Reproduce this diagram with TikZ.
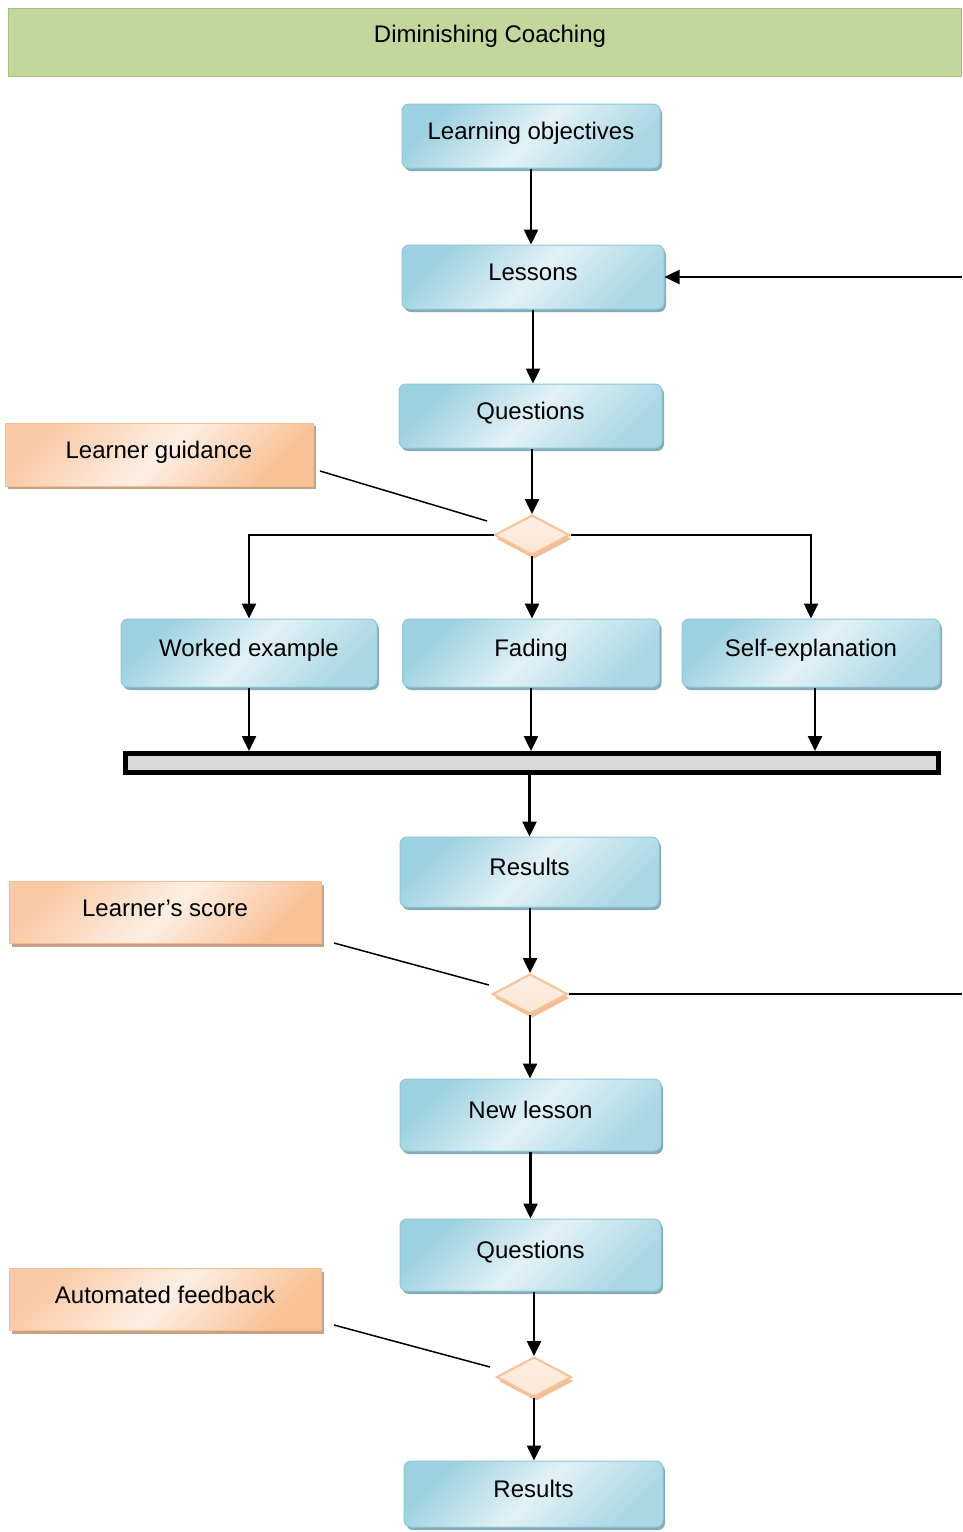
\documentclass[tikz,border=0pt]{standalone}
\usepackage{fontspec}
\setmainfont{Liberation Sans}
\usetikzlibrary{arrows.meta,positioning,shapes.geometric,shadows}
\definecolor{dcInk}{HTML}{000000}
\definecolor{dcTitleFill}{HTML}{C3D69B}
\definecolor{dcTitleLine}{HTML}{A6C27A}
\definecolor{dcBlueDark}{HTML}{9CD1E0}
\definecolor{dcBlueLight}{HTML}{E2F1F6}
\definecolor{dcBlueLine}{HTML}{8FC8D8}
\definecolor{dcBlueShadow}{HTML}{86ABB8}
\definecolor{dcOrangeDark}{HTML}{F9C196}
\definecolor{dcOrangeLight}{HTML}{FDEFE4}
\definecolor{dcOrangeLine}{HTML}{F8BC8C}
\definecolor{dcOrangeShadow}{HTML}{C9A283}
\definecolor{dcGateShadow}{HTML}{F3BE94}
\definecolor{dcBarFill}{HTML}{D9D9D9}
\tikzset{
  dc/base/.style={font=\fontsize{24pt}{28pt}\selectfont, align=center,
    inner sep=0pt, text height=18pt, text depth=10.8pt},
  dc/title/.style={dc/base, draw=dcTitleLine, fill=dcTitleFill,
    line width=1pt, text depth=18pt},
  dc/stage/.style={dc/base, draw=dcBlueLine, line width=1pt,
    rounded corners=7pt, minimum width=260pt, minimum height=66pt,
    left color=dcBlueDark, right color=dcBlueDark!80!dcBlueLight,
    middle color=dcBlueLight, shading angle=45,
    drop shadow={shadow xshift=2pt, shadow yshift=-3pt, fill=dcBlueShadow,
      opacity=1}},
  dc/note/.style={dc/base, draw=dcOrangeLine, line width=1pt,
    minimum width=312pt, minimum height=62pt,
    left color=dcOrangeDark!80!dcOrangeLight, right color=dcOrangeDark,
    middle color=dcOrangeLight, shading angle=45,
    drop shadow={shadow xshift=3pt, shadow yshift=-3pt, fill=dcOrangeShadow,
      opacity=1}},
  dc/gate/.style={diamond, draw=dcOrangeDark, line width=2pt, inner sep=0pt,
    minimum width=75pt, minimum height=40pt, aspect=1.9,
    top color=dcOrangeLight, bottom color=dcOrangeLight!80!dcOrangeDark,
    drop shadow={shadow xshift=2pt, shadow yshift=-4pt, fill=dcGateShadow,
      opacity=1}},
  dc/bar/.style={draw=dcInk, line width=5pt, fill=dcBarFill, inner sep=0pt},
  dc/arrow/.style={-{Triangle[length=15pt,width=14pt]}, draw=dcInk,
    line width=2.5pt},
  dc/flow/.style={draw=dcInk, line width=2.5pt},
  dc/pointer/.style={draw=dcInk, line width=1.5pt},
}

\begin{document}
\begin{tikzpicture}[x=1pt, y=-1pt]
\useasboundingbox (0,0) rectangle (962,1532);

\node[dc/title, minimum width=953pt, minimum height=68pt] (title) at (484.5,42)
  {\hspace*{11pt}Diminishing Coaching};

% main column
\node[dc/stage, minimum width=258pt, minimum height=64pt] (lo) at (531,136) {Learning objectives};
\node[dc/stage, minimum width=262pt, minimum height=64pt] (les) at (533,277) {Lessons};
\node[dc/stage, minimum width=263pt, minimum height=64pt] (qa) at (530.5,416) {Questions};
\node[dc/gate] (gd1) at (532,535) {};

% the three kinds of guidance
\node[dc/stage, minimum width=256pt, minimum height=68pt] (we) at (249,653) {Worked example};
\node[dc/stage, minimum width=257pt, minimum height=68pt] (fad) at (531,653) {Fading};
\node[dc/stage, minimum width=258pt, minimum height=68pt] (se) at (811,653) {Self-explanation};
\node[dc/bar, minimum width=813pt, minimum height=19pt] (bar) at (532,763) {};

\node[dc/stage, minimum width=259pt, minimum height=70pt] (res) at (529.5,872) {Results};
\node[dc/gate] (gd2) at (530,994) {};
\node[dc/stage, minimum width=261pt, minimum height=72pt] (nl) at (530.5,1115) {New lesson};
\node[dc/stage, minimum width=261pt, minimum height=72pt] (qb) at (530.5,1255) {Questions};
\node[dc/gate] (gd3) at (534,1377) {};
\node[dc/stage, minimum width=259pt, minimum height=66pt] (resb) at (533.5,1494) {Results};

% side notes
\node[dc/note, minimum width=308pt, minimum height=63pt] (lg) at (159,454.5) {Learner guidance};
\node[dc/note] (ls) at (165,912.5) {Learner’s score};
\node[dc/note] (af) at (165,1299.5) {Automated feedback};

\coordinate (lgtip) at (320,471);
\coordinate (gd1tip) at (487,521);
\coordinate (lstip) at (334,943);
\coordinate (gd2tip) at (489,985);
\coordinate (aftip) at (334,1325);
\coordinate (gd3tip) at (490,1367);
\coordinate (loopout) at (962,994);
\coordinate (loopin) at (962,277);

\draw[dc/arrow] (lo) -- (lo |- les.north);
\draw[dc/arrow] (les) -- (les |- qa.north);
\draw[dc/arrow] (gd1 |- qa.south) -- (gd1.north);
\draw[dc/arrow] (gd1.west) -| (we.north);
\draw[dc/arrow] (gd1.south) -- (gd1.south |- fad.north);
\draw[dc/arrow] (gd1.east) -| (se.north);
\draw[dc/arrow] (we) -- (we |- bar.north);
\draw[dc/arrow] (fad) -- (fad |- bar.north);
\draw[dc/arrow] ([xshift=4pt]se.south) -- ([xshift=4pt]se.south |- bar.north);
\draw[dc/arrow] (bar.south -| res) -- (res.north);
\draw[dc/arrow] (gd2 |- res.south) -- (gd2.north);
\draw[dc/arrow] (gd2.south) -- (gd2.south |- nl.north);
\draw[dc/arrow] (nl) -- (nl |- qb.north);
\draw[dc/arrow] (gd3 |- qb.south) -- (gd3.north);
\draw[dc/arrow] (gd3.south) -- (gd3.south |- resb.north);

% back to the lessons
\draw[dc/flow] (gd2.east) -- (loopout);
\draw[dc/arrow] (loopin) -- (les.east);

\draw[dc/pointer] (lgtip) -- (gd1tip);
\draw[dc/pointer] (lstip) -- (gd2tip);
\draw[dc/pointer] (aftip) -- (gd3tip);
\end{tikzpicture}
\end{document}
